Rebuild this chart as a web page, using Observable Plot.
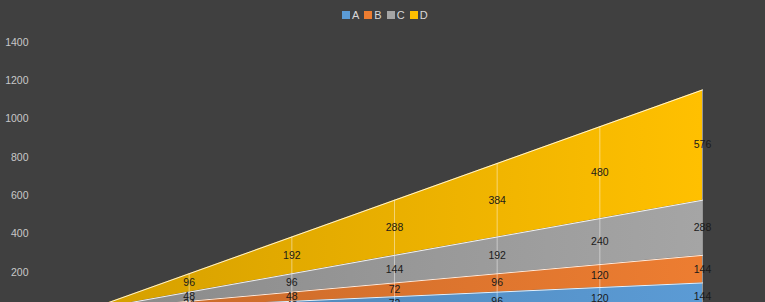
<!DOCTYPE html>
<html>
<head>
<meta charset="utf-8">
<script src="https://cdn.jsdelivr.net/npm/d3@7"></script>
<script src="https://cdn.jsdelivr.net/npm/@observablehq/plot@0.6"></script>
<style>
  html, body { margin: 0; padding: 0; background: #404040; overflow: hidden; }
  #wrap { position: relative; width: 765px; height: 302px; }
  #legend { position: absolute; top: 9px; left: 342px; display: flex; align-items: center;
    font: 11px "Liberation Sans", Arial, sans-serif; color: #d8d8d8; }
  #legend .item { display: inline-flex; align-items: center; margin-right: 5px; }
  #legend .sw { width: 8px; height: 8px; margin-right: 2px; display: inline-block; }
</style>
</head>
<body>
<div id="wrap"><div id="chart"></div><div id="legend"></div></div>
<script>
// ---- data ----
const categories = [0, 1, 2, 3, 4, 5, 6];
const seriesNames = ["A", "B", "C", "D"];
const valuesA = [0, 24, 48, 72, 96, 120, 144];
const valuesB = [0, 24, 48, 72, 96, 120, 144];
const valuesC = [0, 48, 96, 144, 192, 240, 288];
const valuesD = [0, 96, 192, 288, 384, 480, 576];
const yTicks = [200, 400, 600, 800, 1000, 1200, 1400];
const colors = ["#5b9bd5", "#ed7d31", "#a5a5a5", "#ffc000"];

const seriesValues = [valuesA, valuesB, valuesC, valuesD];
const rows = [];
seriesNames.forEach((s, i) => {
  categories.forEach((c, j) => rows.push({series: s, x: c, value: seriesValues[i][j]}));
});
const totals = categories.map((c, j) => ({x: c, total: seriesValues.reduce((a, v) => a + v[j], 0)}));

const gradIds = seriesNames.map(s => "grad-" + s);

function gradients() {
  const g = d3.create("svg:g");
  const defs = g.append("defs");
  seriesNames.forEach((s, i) => {
    const lg = defs.append("linearGradient").attr("id", gradIds[i])
      .attr("x1", 0).attr("x2", 1).attr("y1", 0).attr("y2", 0);
    lg.append("stop").attr("offset", 0).attr("stop-color", d3.interpolateRgb(colors[i], "#000")(0.17));
    lg.append("stop").attr("offset", 1).attr("stop-color", colors[i]);
  });
  return g.node();
}

const chart = Plot.plot({
  width: 765,
  height: 302,
  marginLeft: 86,
  marginRight: 63,
  marginTop: 42,
  marginBottom: 0,
  style: {background: "#404040", color: "#c8c8c8", fontFamily: "'Liberation Sans', Arial, sans-serif", fontSize: "10.5px"},
  x: {type: "linear", domain: [0, 6], axis: null},
  y: {domain: [0, 1400], range: [310, 42], ticks: yTicks, tickSize: 0, tickPadding: 58,
      tickFormat: d => String(d), label: null},
  color: {domain: seriesNames, range: gradIds.map(id => `url(#${id})`)},
  marks: [
    gradients,
    Plot.areaY(rows, Plot.stackY({x: "x", y: "value", z: "series", fill: "series"})),
    Plot.ruleX(totals, {x: "x", y1: 0, y2: "total", stroke: "#fff", strokeOpacity: 0.45, strokeWidth: 1}),
    Plot.lineY(rows, Plot.stackY2({x: "x", y: "value", z: "series", stroke: "#fff", strokeOpacity: 0.85, strokeWidth: 1})),
    Plot.text(rows, Plot.filter(d => d.value > 0, Plot.stackY({x: "x", y: "value", z: "series", text: d => String(d.value),
      fill: "#1a1a1a", fontSize: 10.5})))
  ]
});
document.getElementById("chart").appendChild(chart);

const legend = document.getElementById("legend");
seriesNames.forEach((s, i) => {
  const item = document.createElement("span");
  item.className = "item";
  const sw = document.createElement("span");
  sw.className = "sw";
  sw.style.background = colors[i];
  item.appendChild(sw);
  item.appendChild(document.createTextNode(s));
  legend.appendChild(item);
});
</script>
</body>
</html>
